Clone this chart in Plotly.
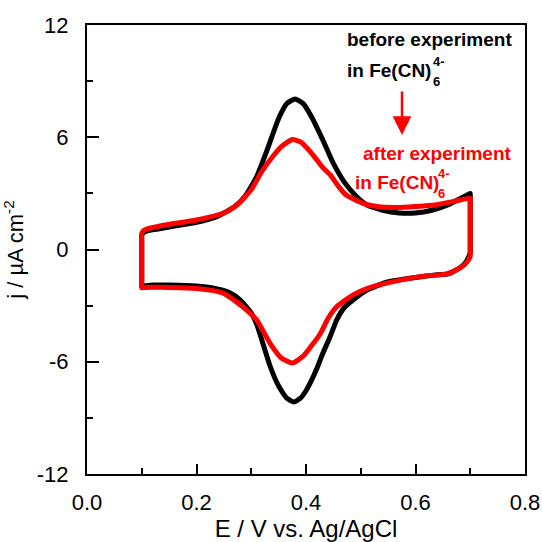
import plotly.graph_objects as go

# Black curve: before experiment (closed CV loop)
before_E = [0.1, 0.1, 0.1, 0.1, 0.103, 0.11, 0.13, 0.16, 0.2, 0.24, 0.27, 0.29, 0.31, 0.33, 0.35, 0.365, 0.38,
            0.395, 0.41, 0.43, 0.45, 0.47, 0.49, 0.51, 0.54, 0.57, 0.6, 0.63, 0.66, 0.69, 0.7,
            0.7, 0.7, 0.7, 0.697, 0.69, 0.68, 0.66, 0.64, 0.6, 0.547, 0.51, 0.486, 0.47, 0.456, 0.444, 0.43,
            0.42, 0.41, 0.4, 0.39, 0.378, 0.365, 0.35, 0.334, 0.32, 0.31, 0.3, 0.28, 0.26, 0.23, 0.2, 0.15,
            0.12, 0.105, 0.1]
before_j = [-2.0, -1.8, 0.5, 0.75, 0.9, 1.0, 1.1, 1.25, 1.45, 1.8, 2.3, 2.9, 3.9, 5.4, 7.0, 7.8, 8.05,
            7.8, 7.1, 5.9, 4.6, 3.6, 2.9, 2.4, 2.1, 1.95, 1.95, 2.1, 2.4, 2.85, 3.0,
            2.8, 0.1, -0.15, -0.4, -0.75, -1.0, -1.3, -1.35, -1.5, -1.75, -2.2, -2.7, -3.1, -3.77, -4.66, -5.6,
            -6.35, -7.0, -7.55, -7.95, -8.15, -7.95, -7.3, -6.2, -4.9, -4.0, -3.4, -2.7, -2.3, -2.05, -1.95, -1.9,
            -1.9, -1.95, -2.0]

# Red curve: after experiment
after_E = [0.1, 0.1, 0.1, 0.1, 0.103, 0.11, 0.14, 0.2, 0.25, 0.275, 0.3, 0.31, 0.32, 0.34, 0.355, 0.375,
           0.39, 0.413, 0.43, 0.444, 0.46, 0.474, 0.504, 0.53, 0.57, 0.6, 0.635, 0.675, 0.7,
           0.7, 0.7, 0.7, 0.697, 0.69, 0.68, 0.657, 0.608, 0.547, 0.51, 0.486, 0.456, 0.44, 0.426, 0.41,
           0.395, 0.375, 0.355, 0.334, 0.31, 0.29, 0.273, 0.25, 0.231, 0.2, 0.15, 0.12, 0.105, 0.1]
after_j = [-2.05, -1.85, 0.6, 0.85, 1.0, 1.1, 1.3, 1.58, 1.95, 2.4, 3.2, 3.7, 4.2, 5.0, 5.5, 5.88,
           5.75, 5.05, 4.4, 4.0, 3.35, 2.9, 2.47, 2.3, 2.25, 2.3, 2.38, 2.6, 2.74,
           2.55, -0.1, -0.35, -0.55, -0.8, -1.0, -1.3, -1.45, -1.8, -2.1, -2.43, -3.06, -3.7, -4.5, -5.15,
           -5.7, -6.07, -5.8, -5.0, -3.77, -3.2, -2.8, -2.35, -2.2, -2.08, -2.03, -2.02, -2.03, -2.05]

x_ticks = [0.0, 0.2, 0.4, 0.6, 0.8]
x_labels = ["0.0", "0.2", "0.4", "0.6", "0.8"]
y_ticks = [-12, -6, 0, 6, 12]
y_labels = ["-12", "-6", "0", "6", "12"]

FONT = "Arial, Liberation Sans, sans-serif"

fig = go.Figure()
fig.add_trace(go.Scatter(x=before_E, y=before_j, mode="lines",
                         line=dict(color="black", width=5, shape="spline", smoothing=0.5),
                         name="before"))
fig.add_trace(go.Scatter(x=after_E, y=after_j, mode="lines",
                         line=dict(color="#ff0000", width=5, shape="spline", smoothing=0.5),
                         name="after"))

ann = []
def px2paper(px, py):
    return (px - 87) / (525 - 87), (474 - py) / (474 - 25)

def txt(px, py, s, color, size=19):
    x0, y0 = px2paper(px, py)
    ann.append(dict(x=x0, y=y0, xref="paper", yref="paper", text=s, showarrow=False,
                    font=dict(family=FONT, size=size, color=color),
                    xanchor="left", yanchor="middle"))

txt(345, 40, "<b>before experiment</b>", "black")
txt(345, 70, "<b>in Fe(CN)</b>", "black")
txt(431, 61, "<b>4-</b>", "black", size=13)
txt(431, 81, "<b>6</b>", "black", size=13)

txt(361, 153, "<b>after experiment</b>", "#ff0000")
txt(353, 182, "<b>in Fe(CN)</b>", "#ff0000")
txt(436, 173, "<b>4-</b>", "#ff0000", size=13)
txt(436, 193, "<b>6</b>", "#ff0000", size=13)

ax0, ay0 = px2paper(402, 135)
ann.append(dict(x=ax0, y=ay0, xref="paper", yref="paper", ax=0, ay=-45,
                showarrow=True, arrowhead=2, arrowsize=1.5, arrowwidth=2.5,
                arrowcolor="#ff0000", text=""))

fig.update_layout(
    width=542, height=542,
    margin=dict(l=87, r=17, t=25, b=68, autoexpand=False),
    paper_bgcolor="white", plot_bgcolor="white",
    showlegend=False,
    font=dict(family=FONT, size=22, color="black"),
    annotations=ann,
    xaxis=dict(range=[0, 0.8], tickvals=x_ticks, ticktext=x_labels,
               ticks="inside", ticklen=10, tickwidth=1.5, tickcolor="black",
               minor=dict(dtick=0.1, ticks="inside", ticklen=6, tickwidth=1.5, tickcolor="black"),
               showline=True, linewidth=2, linecolor="black", mirror=True,
               showgrid=False, zeroline=False, automargin=False,
               ticklabelstandoff=8,
               title=dict(text="E / V vs. Ag/AgCl", font=dict(size=24), standoff=2),
               tickfont=dict(size=22)),
    yaxis=dict(range=[-12, 12], tickvals=y_ticks, ticktext=y_labels,
               ticks="inside", ticklen=12, tickwidth=1.5, tickcolor="black",
               minor=dict(dtick=3, ticks="inside", ticklen=6, tickwidth=1.5, tickcolor="black"),
               showline=True, linewidth=2, linecolor="black", mirror=True,
               showgrid=False, zeroline=False, automargin=False,
               ticklabelstandoff=12,
               title=dict(text="j / µA cm<sup>-2</sup>", font=dict(size=22), standoff=8),
               tickfont=dict(size=22)),
)

fig.write_html("out.html", config={"displayModeBar": False},
               post_script="document.body.style.margin='0';document.body.style.overflow='hidden';")
